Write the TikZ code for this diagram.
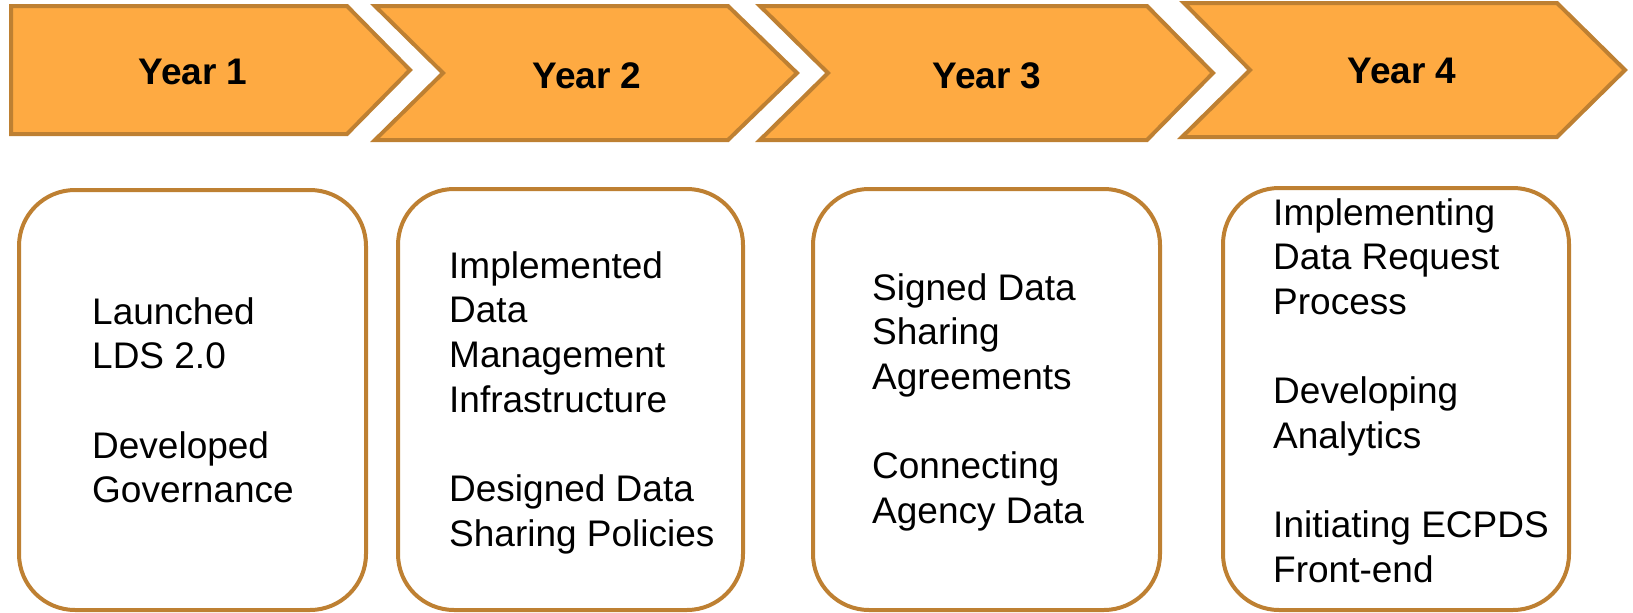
\documentclass[tikz,border=0pt]{standalone}
\usepackage{fontspec}
\setmainfont{Liberation Sans}
\definecolor{arrowfill}{RGB}{254,170,66}
\definecolor{arrowline}{RGB}{190,128,50}
\newcommand{\cardlines}[1]{\begin{tabular}[t]{@{}l@{}}#1\end{tabular}}
\begin{document}
\begin{tikzpicture}[x=1pt,y=-1pt,
  chev/.style={fill=arrowfill,draw=arrowline,line width=4pt,line join=miter},
  yearlbl/.style={font=\fontsize{37}{40}\selectfont\bfseries,anchor=base,inner sep=0pt},
  cardbox/.style={draw=arrowline,line width=4pt,rounded corners=56pt,fill=white},
  cardtxt/.style={font=\fontsize{37}{44.7}\selectfont,anchor=base west,inner sep=0pt}]
\useasboundingbox (0,0) rectangle (1633,613);
% chevrons
\draw[chev] (11,6) -- (347,6) -- (410,70) -- (347,134) -- (11,134) -- cycle;
\draw[chev] (375,6) -- (728,6) -- (797,73) -- (728,140) -- (375,140) -- (443,73) -- cycle;
\draw[chev] (760,6) -- (1147,6) -- (1213,73) -- (1147,140) -- (760,140) -- (828,73) -- cycle;
\draw[chev] (1184,3) -- (1557,3) -- (1625,70) -- (1557,137) -- (1182,137) -- (1250,70) -- cycle;
\node[yearlbl] (y1) at (193,84) {Year 1};
\node[yearlbl] (y2) at (587,88) {Year 2};
\node[yearlbl] (y3) at (987,88) {Year 3};
\node[yearlbl] (y4) at (1402,83) {Year 4};
% cards
\draw[cardbox] (19,190) rectangle (366,610);
\draw[cardbox] (398,189) rectangle (743,610);
\draw[cardbox] (813,189) rectangle (1160,610);
\draw[cardbox] (1223,188) rectangle (1569,610);
\node[cardtxt] (t1) at (92,324) {\cardlines{Launched\\LDS 2.0\\ \\Developed\\Governance}};
\node[cardtxt] (t2) at (449,278) {\cardlines{Implemented\\Data\\Management\\Infrastructure\\ \\Designed Data\\Sharing Policies}};
\node[cardtxt] (t3) at (872,300) {\cardlines{Signed Data\\Sharing\\Agreements\\ \\Connecting\\Agency Data}};
\node[cardtxt] (t4) at (1273,225) {\cardlines{Implementing\\Data Request\\Process\\ \\Developing\\Analytics\\ \\Initiating ECPDS\\Front-end}};
\end{tikzpicture}
\end{document}
